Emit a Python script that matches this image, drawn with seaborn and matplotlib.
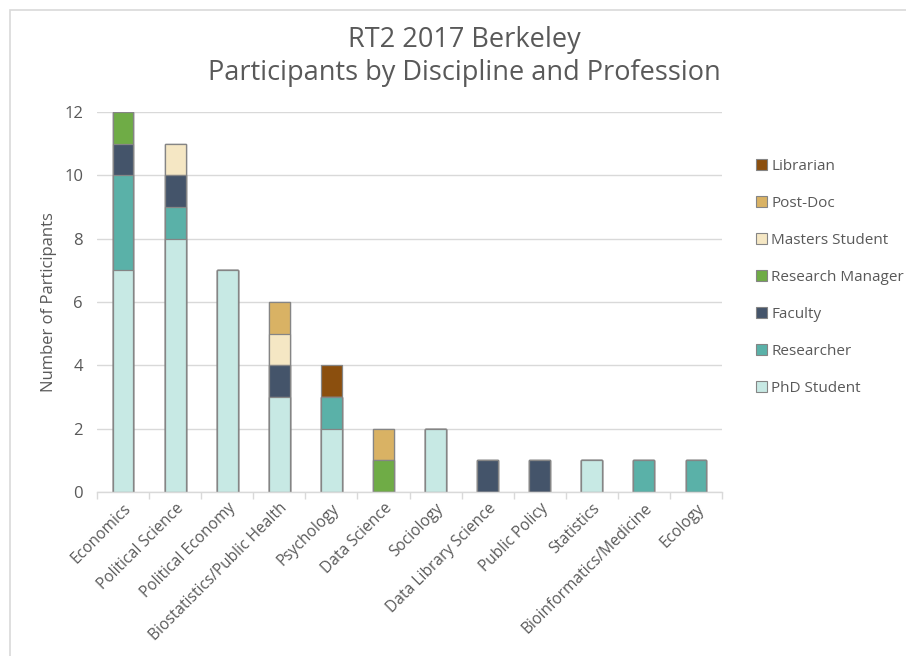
import matplotlib
matplotlib.use("Agg")
import matplotlib.pyplot as plt
import matplotlib.patches as mpatches
import numpy as np
import pandas as pd
import seaborn as sns

disciplines = ["Economics", "Political Science", "Political Economy",
               "Biostatistics/Public Health", "Psychology", "Data Science",
               "Sociology", "Data Library Science", "Public Policy",
               "Statistics", "Bioinformatics/Medicine", "Ecology"]

professions = ["PhD Student", "Researcher", "Faculty", "Research Manager",
               "Masters Student", "Post-Doc", "Librarian"]

phd_student      = [7, 8, 7, 3, 2, 0, 2, 0, 0, 1, 0, 0]
researcher       = [3, 1, 0, 0, 1, 0, 0, 0, 0, 0, 1, 1]
faculty          = [1, 1, 0, 1, 0, 0, 0, 1, 1, 0, 0, 0]
research_manager = [1, 0, 0, 0, 0, 1, 0, 0, 0, 0, 0, 0]
masters_student  = [0, 1, 0, 1, 0, 0, 0, 0, 0, 0, 0, 0]
post_doc         = [0, 0, 0, 1, 0, 1, 0, 0, 0, 0, 0, 0]
librarian        = [0, 0, 0, 0, 1, 0, 0, 0, 0, 0, 0, 0]

series = [phd_student, researcher, faculty, research_manager,
          masters_student, post_doc, librarian]

colors = {
    "PhD Student": "#C7E9E4",
    "Researcher": "#5AB1A8",
    "Faculty": "#44546A",
    "Research Manager": "#6FAC46",
    "Masters Student": "#F5E7C4",
    "Post-Doc": "#D9B264",
    "Librarian": "#8B4F0E",
}

sns.set_theme(style="white")
plt.rcParams['font.family'] = ['Open Sans', 'DejaVu Sans']

fig = plt.figure(figsize=(9.06, 6.56), dpi=100)
ax = fig.add_axes([97/906, 1 - 492/656, (722 - 97)/906, (492 - 112)/656])

# cumulative stacks, drawn from the top layer down
cum = np.cumsum(np.array(series, dtype=float), axis=0)
for i in range(len(professions) - 1, -1, -1):
    df = pd.DataFrame({"Discipline": disciplines, "Value": cum[i]})
    sns.barplot(data=df, x="Discipline", y="Value", order=disciplines,
                color=colors[professions[i]], saturation=1, width=0.4,
                edgecolor="#858585", linewidth=0.9, ax=ax, zorder=3)

ax.set_ylim(0, 12)
ax.set_xlim(-0.5, len(disciplines) - 0.5)
ax.set_yticks(range(0, 13, 2))
ax.yaxis.grid(True, color="#d9d9d9", linewidth=1, zorder=0)
ax.set_axisbelow(True)
for s in ["top", "right", "left"]:
    ax.spines[s].set_visible(False)
ax.spines["bottom"].set_color("#d9d9d9")
ax.spines["bottom"].set_linewidth(1)
ax.spines["bottom"].set_zorder(4)

ax.set_xticks(np.arange(len(disciplines)))
ax.set_xticklabels(disciplines, rotation=45, ha="right", rotation_mode="anchor",
                   fontsize=11.2, color="#595959")
ax.tick_params(axis="x", length=0, pad=6)
ax.set_xticks(np.arange(-0.5, len(disciplines), 1.0), minor=True)
ax.tick_params(axis="x", which="minor", length=5, color="#d9d9d9", width=1,
               bottom=True, direction="out")
ax.tick_params(axis="y", length=0, labelsize=12, labelcolor="#595959", pad=10)

ax.set_xlabel("")
ax.set_ylabel("Number of Participants", fontsize=12, color="#595959", labelpad=5)

handles = [mpatches.Patch(facecolor=colors[p], edgecolor="#858585", linewidth=0.8, label=p)
           for p in reversed(professions)]
leg = fig.legend(handles=handles, loc="upper left", bbox_to_anchor=(756/906, 1 - 159/656),
                 frameon=False, fontsize=11, labelspacing=1.44, handlelength=0.7,
                 handleheight=0.7, handletextpad=0.3, borderaxespad=0, borderpad=0)
for t in leg.get_texts():
    t.set_color("#595959")

fig.text(464/906, 1 - 40/656, "RT2 2017 Berkeley", ha="center", va="center",
         fontsize=19.5, color="#595959")
fig.text(464/906, 1 - 73/656, "Participants by Discipline and Profession",
         ha="center", va="center", fontsize=19.5, color="#595959")

frame = mpatches.Rectangle((10/906, -0.1), 1.2, 1 - 9.5/656 + 0.1, transform=fig.transFigure,
                           fill=False, edgecolor="#d9d9d9", linewidth=1.2)
fig.patches.append(frame)

fig.savefig("out.png", dpi=100)
